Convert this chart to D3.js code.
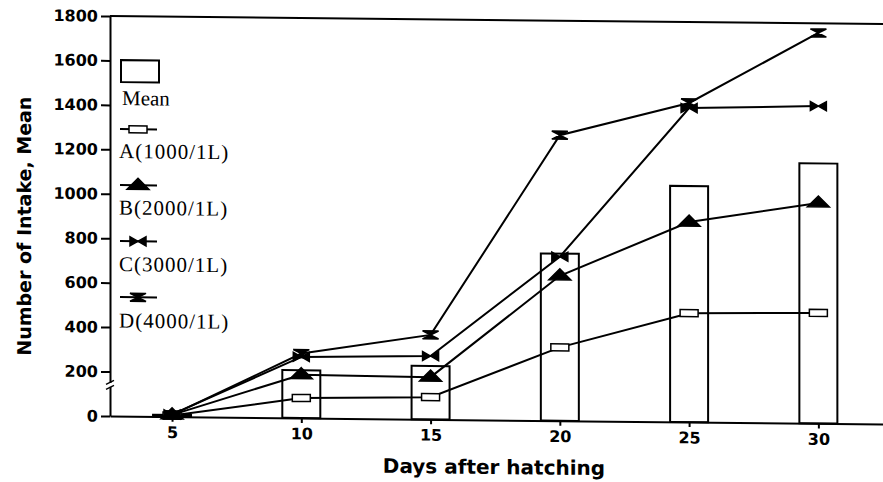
<!DOCTYPE html>
<html>
<head>
<meta charset="utf-8">
<script src="https://cdn.jsdelivr.net/npm/d3@7"></script>
<style>
  body { margin: 0; background: #fff; }
  .chart svg { display: block; }
</style>
</head>
<body>
<div class="chart"></div>
<script>
var days = [5, 10, 15, 20, 25, 30]
var meanIntake = [8, 215, 240, 752, 1062, 1170]
var seriesA = [5, 90, 100, 330, 490, 497]
var seriesB = [8, 195, 190, 652, 900, 992]
var seriesC = [10, 275, 285, 738, 1413, 1428]
var seriesD = [8, 290, 380, 1285, 1436, 1757]
var seriesNames = ['A(1000/1L)', 'B(2000/1L)', 'C(3000/1L)', 'D(4000/1L)']
var yTicks = [0, 200, 400, 600, 800, 1000, 1200, 1400, 1600, 1800]

var width = 883
var height = 482
var margin = {top: 16, right: 0, bottom: 66, left: 110}

// marker shapes: A open box, B triangle, C bowtie, D hourglass
var symbols = [
  {d: 'M-9,-3.5H9V3.5H-9Z', fill: '#fff'},
  {d: 'M0,-7L11,4L-11,4Z', fill: '#000'},
  {d: 'M-8,-4.5L-8,4.5L8,-4.5L8,4.5Z', fill: '#000'},
  {d: 'M-8,-4L8,-4L-8,4L8,4Z', fill: '#000'}
]

var x = d3
  .scaleLinear()
  .domain([2.6, 32.5])
  .range([margin.left, width - margin.right])
var y = d3
  .scaleLinear()
  .domain([0, 1800])
  .range([height - margin.bottom, margin.top])
var barW = 38

var svg = d3
  .select('.chart')
  .append('svg')
  .attr('width', width)
  .attr('height', height)

// the scanned original leans slightly downwards to the right
var skew = 0.6
var root = svg
  .append('g')
  .attr(
    'transform',
    'translate(0,' + -margin.left * Math.tan(skew * Math.PI / 180) + ') skewY(' + skew + ')'
  )

// top frame line
root
  .append('line')
  .attr('x1', margin.left)
  .attr('x2', width)
  .attr('y1', y(1800))
  .attr('y2', y(1800))
  .attr('stroke', '#000')
  .attr('stroke-width', 2)

// mean bars
root
  .selectAll('.bar')
  .data(days)
  .enter()
  .append('rect')
  .attr('class', 'bar')
  .attr('x', function(d) { return x(d) - barW / 2 })
  .attr('width', barW)
  .attr('y', function(d, i) { return y(meanIntake[i]) })
  .attr('height', function(d, i) { return y(0) - y(meanIntake[i]) })
  .attr('fill', '#fff')
  .attr('stroke', '#000')
  .attr('stroke-width', 2)

// axes
var xAxis = root
  .append('g')
  .attr('transform', 'translate(0,' + y(0) + ')')
  .call(d3.axisBottom(x).tickValues(days).tickSize(5).tickSizeOuter(0).tickPadding(5))
var yAxis = root
  .append('g')
  .attr('transform', 'translate(' + margin.left + ',0)')
  .call(
    d3.axisLeft(y)
      .tickValues(yTicks)
      .tickFormat(d3.format('d'))
      .tickSize(9)
      .tickSizeOuter(0)
      .tickPadding(3)
  )
;[xAxis, yAxis].forEach(function(ax) {
  ax.selectAll('path, line').attr('stroke', '#000').attr('stroke-width', 2)
  ax.selectAll('text')
    .attr('fill', '#000')
    .style('font-family', 'DejaVu Sans')
    .style('font-weight', 'bold')
    .style('font-size', '16px')
})

// axis break between 0 and 200
var yb = y(140)
root
  .append('rect')
  .attr('x', margin.left - 3)
  .attr('y', yb - 2)
  .attr('width', 6)
  .attr('height', 4)
  .attr('fill', '#fff')
;[-2.5, 2.5].forEach(function(off) {
  root
    .append('line')
    .attr('x1', margin.left - 4)
    .attr('x2', margin.left + 4)
    .attr('y1', yb + off + 2)
    .attr('y2', yb + off - 2)
    .attr('stroke', '#000')
    .attr('stroke-width', 1.5)
})

// axis titles
root
  .append('text')
  .attr('x', 494)
  .attr('y', 470)
  .attr('text-anchor', 'middle')
  .style('font-family', 'DejaVu Sans')
  .style('font-weight', 'bold')
  .style('font-size', '20px')
  .text('Days after hatching')
root
  .append('text')
  .attr('transform', 'translate(31,227) rotate(-90)')
  .attr('text-anchor', 'middle')
  .style('font-family', 'DejaVu Sans')
  .style('font-weight', 'bold')
  .style('font-size', '19px')
  .text('Number of Intake, Mean')

// series lines and markers
var series = [seriesA, seriesB, seriesC, seriesD]
var line = d3
  .line()
  .x(function(d, i) { return x(days[i]) })
  .y(function(d) { return y(d) })
var lineG = root.append('g')
series.forEach(function(vals) {
  lineG
    .append('path')
    .attr('d', line(vals))
    .attr('fill', 'none')
    .attr('stroke', '#000')
    .attr('stroke-width', 2)
})
series.forEach(function(vals, s) {
  lineG
    .selectAll('.mk' + s)
    .data(vals)
    .enter()
    .append('path')
    .attr('class', 'mk' + s)
    .attr('d', symbols[s].d)
    .attr('transform', function(d, i) {
      return 'translate(' + x(days[i]) + ',' + y(d) + ')'
    })
    .attr('fill', symbols[s].fill)
    .attr('stroke', '#000')
    .attr('stroke-width', 1.5)
})

// legend
var legend = root.append('g').style('font-family', 'Liberation Serif').style('font-size', '21px')
legend
  .append('rect')
  .attr('x', 121)
  .attr('y', 60)
  .attr('width', barW)
  .attr('height', 22)
  .attr('fill', '#fff')
  .attr('stroke', '#000')
  .attr('stroke-width', 2)
legend.append('text').attr('x', 122).attr('y', 105).text('Mean')
seriesNames.forEach(function(name, s) {
  var my = 129 + 56 * s
  legend
    .append('line')
    .attr('x1', 120)
    .attr('x2', 157)
    .attr('y1', my)
    .attr('y2', my)
    .attr('stroke', '#000')
    .attr('stroke-width', 2)
  legend
    .append('path')
    .attr('d', symbols[s].d)
    .attr('transform', 'translate(138,' + my + ')')
    .attr('fill', symbols[s].fill)
    .attr('stroke', '#000')
    .attr('stroke-width', 1.5)
  legend
    .append('text')
    .attr('x', 119)
    .attr('y', 158 + 56.5 * s)
    .attr('letter-spacing', 1)
    .text(name)
})
</script>
</body>
</html>
